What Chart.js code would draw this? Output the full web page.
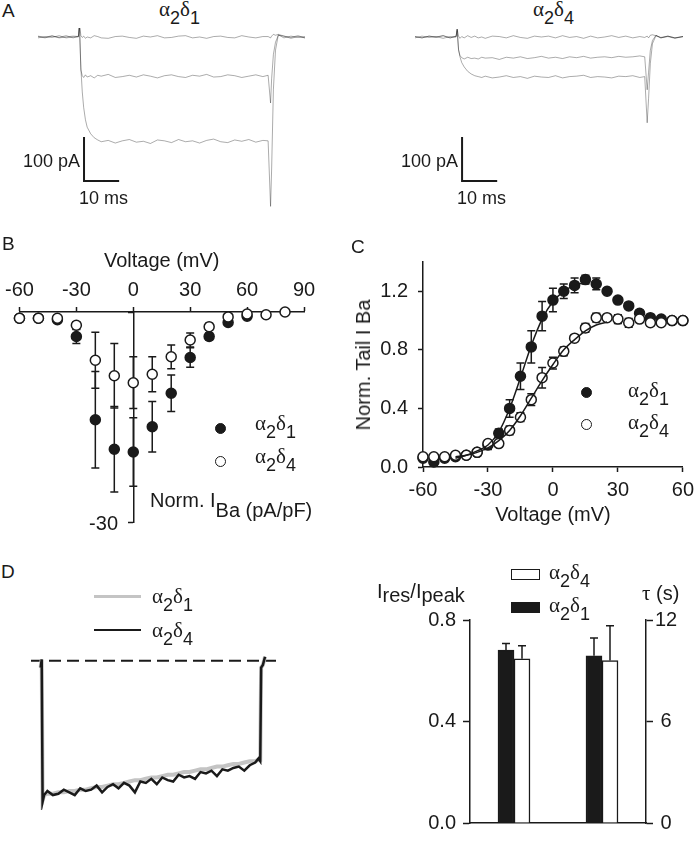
<!DOCTYPE html>
<html>
<head>
<meta charset="utf-8">
<script src="https://cdn.jsdelivr.net/npm/chart.js@4.4.1/dist/chart.umd.min.js"></script>
<style>
body { margin: 0; background: #fff; }
#fig { position: relative; width: 700px; height: 842px; overflow: hidden; font-family: 'Liberation Sans', Arial, sans-serif; color: #1a1a1a; }
#fig canvas { position: absolute; }
.t { position: absolute; white-space: nowrap; line-height: 1; font-size: 20px; }
.lt { font-size: 19px; }
.sb { font-size: 18px; }
.gl { font-family: 'Liberation Serif', 'Times New Roman', serif; font-size: 21px; }
.gl sub { font-family: 'Liberation Sans', Arial, sans-serif; font-size: 18px; vertical-align: -8px; line-height: 1; }
.sub10 sub { font-size: 20px; vertical-align: -10px; line-height: 1; }
.sub4 sub { font-size: 20px; vertical-align: -4px; line-height: 1; }
.serif { font-family: 'Liberation Serif', 'Times New Roman', serif; font-size: 21px; }
.dot { position: absolute; width: 11px; height: 11px; border-radius: 50%; border: 1.5px solid #1a1a1a; box-sizing: border-box; }
.box { position: absolute; border: 1.5px solid #1a1a1a; box-sizing: border-box; }
.ln { position: absolute; }
</style>
</head>
<body>
<div id="fig">
  <canvas id="cA1" width="267" height="185" style="left:38px;top:28px"></canvas>
  <canvas id="cA4" width="268" height="185" style="left:415px;top:28px"></canvas>
  <canvas id="cB" width="330" height="300" style="left:0;top:240px"></canvas>
  <canvas id="cC" width="350" height="300" style="left:350px;top:240px"></canvas>
  <canvas id="cD1" width="245" height="160" style="left:31px;top:650px"></canvas>
  <canvas id="cD2" width="350" height="242" style="left:350px;top:600px"></canvas>

  <div class="t lt" style="left:2px;top:1px">A</div>
  <div class="t lt" style="left:2px;top:234px">B</div>
  <div class="t lt" style="left:351px;top:237px">C</div>
  <div class="t lt" style="left:1px;top:562px">D</div>

  <div class="t gl" style="left:159px;top:-1px">α<sub>2</sub>δ<sub>1</sub></div>
  <div class="t gl" style="left:533px;top:-1px">α<sub>2</sub>δ<sub>4</sub></div>
  <div class="t sb" style="right:620px;top:152px">100 pA</div>
  <div class="t sb" style="left:79px;top:189px">10 ms</div>
  <div class="t sb" style="right:242px;top:152px">100 pA</div>
  <div class="t sb" style="left:457px;top:189px">10 ms</div>

  <div class="t" style="right:582px;top:513px">-30</div>
  <div class="dot" style="left:215px;top:423px;background:#1a1a1a"></div>
  <div class="dot" style="left:215px;top:456px;background:#fff"></div>
  <div class="t gl" style="left:255px;top:413px">α<sub>2</sub>δ<sub>1</sub></div>
  <div class="t gl" style="left:255px;top:446px">α<sub>2</sub>δ<sub>4</sub></div>
  <div class="t sub10" style="left:150px;top:490px">Norm. I<sub>Ba (pA/pF)</sub></div>

  <div class="dot" style="left:581px;top:387px;background:#1a1a1a"></div>
  <div class="dot" style="left:581px;top:419px;background:#fff"></div>
  <div class="t gl" style="left:628px;top:380px">α<sub>2</sub>δ<sub>1</sub></div>
  <div class="t gl" style="left:628px;top:412px">α<sub>2</sub>δ<sub>4</sub></div>
  <div class="t" style="left:363px;top:365px;transform:translate(-50%,-50%) rotate(-90deg)">Norm. Tail I Ba</div>

  <div class="ln" style="left:94px;top:595px;width:47px;height:3px;background:#c4c4c4"></div>
  <div class="ln" style="left:94px;top:629px;width:47px;height:2px;background:#1a1a1a"></div>
  <div class="t gl" style="left:152px;top:586px">α<sub>2</sub>δ<sub>1</sub></div>
  <div class="t gl" style="left:152px;top:620px">α<sub>2</sub>δ<sub>4</sub></div>

  <div class="box" style="left:511px;top:569px;width:29px;height:11px;background:#fff"></div>
  <div class="box" style="left:511px;top:602px;width:29px;height:11px;background:#1a1a1a"></div>
  <div class="t gl" style="left:549px;top:562px">α<sub>2</sub>δ<sub>4</sub></div>
  <div class="t gl" style="left:549px;top:595px">α<sub>2</sub>δ<sub>1</sub></div>
  <div class="t sub4" style="left:377px;top:581px">I<sub>res</sub>/I<sub>peak</sub></div>
  <div class="t" style="left:642px;top:583px"><span class="serif">τ</span> (s)</div>
</div>

<script>
// A: current traces (ms, pA)
const tA1 = [0,2,4,6,8,10,11.5,11.8,12.2,12.6,13,13.5,14,15,16,17,18,20,22,24,26,28,30,32,34,36,38,40,42,44,46,48,50,52,54,56,58,60,62,64,65.5,66.2,66.5,67,67.6,68.4,70,72,74,76];
const a1Zero = [2,-1,3,-2,0,2,1,32,3,-1,2,-3,0,-2,3,1,-2,-3,1,2,-1,-3,2,0,3,-2,-1,2,3,-2,0,-3,1,2,-1,-2,3,0,-2,1,1,-2,2,6,4,6,2,-1,3,-2];
const a1Mid = [-2,1,-1,3,-2,0,0,25,-75,-88,-92,-86,-91,-88,-93,-87,-89,-85,-92,-90,-87,-91,-86,-89,-93,-88,-86,-90,-92,-87,-89,-85,-91,-90,-86,-88,-92,-89,-86,-90,-87,-150,-95,-40,-12,4,2,-3,1,-2];
const a1Low = [1,-2,2,-1,3,-2,2,30,-70,-125,-160,-188,-205,-220,-229,-234,-238,-235,-241,-236,-233,-239,-237,-242,-234,-236,-240,-233,-238,-236,-241,-235,-232,-238,-240,-234,-237,-233,-239,-235,-236,-385,-300,-120,-30,5,-2,2,-1,1];

const tA4 = [0,2,4,6,8,10,11.7,12,12.4,12.8,13.3,14,15,16,17,18,19,20,22,24,26,28,30,32,34,36,38,40,42,44,46,48,50,52,54,56,58,60,62,64,65.4,66.1,66.5,67,67.6,68.6,70,72,74,76.3];
const a4Zero = [1,-2,2,0,3,-2,1,18,2,-3,1,-2,3,-1,2,-2,0,-3,2,1,-2,3,-1,-3,2,0,2,-2,3,-1,1,-3,2,-2,0,3,-1,2,-2,1,-1,2,-2,4,5,3,-2,1,-3,1];
const a4Mid = [-2,2,-1,1,-3,1,0,15,-30,-42,-47,-50,-46,-49,-48,-50,-46,-48,-47,-51,-46,-48,-45,-49,-47,-44,-48,-46,-49,-45,-47,-44,-48,-46,-45,-47,-44,-46,-45,-43,-45,-120,-80,-30,-8,4,-2,2,-2,1];
const a4Low = [1,-2,2,-1,3,-2,2,18,-28,-45,-58,-68,-78,-84,-88,-90,-92,-89,-93,-91,-88,-92,-90,-94,-89,-91,-92,-88,-93,-90,-89,-87,-92,-90,-91,-93,-89,-90,-88,-92,-90,-195,-140,-60,-15,3,-1,2,-2,1];

// B: I-V (mV, pA/pF)
const vB = [-60,-50,-40,-30,-20,-10,0,10,20,30,40,50,60,70,80];
const b1Mean = [-0.9,-0.9,-1.1,-3.5,-15.4,-19.6,-20.0,-16.4,-11.6,-6.5,-3.5,-1.5,-0.6];
const b1Err = [0.2,0.2,0.3,1.0,6.9,6.1,4.9,3.6,2.6,1.4,0.5,0.3,0.2];
const b4Mean = [-0.9,-0.9,-0.9,-1.9,-6.9,-9.1,-10.1,-8.9,-6.4,-4.0,-2.1,-0.7,-0.3,-0.4,0.0];
const b4Err = [0.2,0.2,0.2,0.5,4.0,4.6,3.7,2.5,1.7,1.0,0.5,0.3,0.2,0.2,0.2];

// C: normalized tail current
const vC = [-60,-55,-50,-45,-40,-35,-30,-25,-20,-15,-10,-5,0,5,10,15,20,25,30,35,40,45,50,55,60];
const c1Mean = [0.06,0.035,0.06,0.07,0.08,0.10,0.15,0.23,0.40,0.62,0.82,1.03,1.14,1.20,1.24,1.28,1.25,1.20,1.14,1.10,1.05,1.02,1.01,1.00,1.00];
const c1Err = [0.02,0.02,0.01,0.01,0.01,0.02,0.03,0.03,0.06,0.09,0.11,0.10,0.08,0.05,0.05,0.03,0.04,0.02,0.02,0.02,0.02,0.01,0.01,0.01,0.01];
const c4Mean = [0.07,0.07,0.07,0.08,0.08,0.10,0.16,0.16,0.25,0.34,0.46,0.61,0.71,0.79,0.88,0.95,1.02,1.02,1.01,0.985,1.01,0.985,0.985,1.00,1.00];
const c4Err = [0.01,0.01,0.01,0.01,0.01,0.02,0.02,0.02,0.03,0.03,0.04,0.07,0.04,0.03,0.02,0.03,0.03,0.02,0.03,0.03,0.01,0.02,0.01,0.01,0.01];
const fit1V = [-45,-40,-35,-30,-25,-20,-15,-10,-5,0,5,10,15];
const fit1 = [0.06,0.08,0.11,0.15,0.24,0.40,0.61,0.83,1.01,1.13,1.20,1.24,1.26];
const fit4V = [-45,-40,-35,-30,-25,-20,-15,-10,-5,0,5,10,15,20,25];
const fit4 = [0.07,0.08,0.10,0.13,0.18,0.25,0.35,0.47,0.59,0.70,0.80,0.87,0.93,0.97,0.99];

// D: inactivation trace (s, normalized) and bar summary
const dTime = [-0.06,-0.01,0.03,0.1,0.25,0.5,0.75,1,1.25,1.5,1.75,2,2.25,2.5,2.75,3,3.25,3.5,3.75,4,4.25,4.5,4.75,5,5.25,5.5,5.75,6,6.25,6.5,6.75,7,7.25,7.5,7.75,8,8.25,8.5,8.75,9,9.25,9.5,9.75,9.9,9.98,10.02,10.1,10.2];
const dBlack = [-0.05,0.01,-1.04,-0.99,-0.96,-0.99,-0.98,-0.95,-0.97,-0.99,-0.94,-0.96,-0.95,-0.92,-0.97,-0.93,-0.91,-0.94,-0.90,-0.92,-0.97,-0.89,-0.90,-0.87,-0.91,-0.86,-0.88,-0.89,-0.84,-0.86,-0.85,-0.87,-0.82,-0.83,-0.81,-0.85,-0.80,-0.81,-0.79,-0.78,-0.81,-0.77,-0.75,-0.72,-0.74,-0.05,-0.03,0.03];
const dGrey = [-0.05,0.01,-1.03,-0.99,-0.98,-0.98,-0.97,-0.97,-0.96,-0.96,-0.95,-0.95,-0.94,-0.93,-0.93,-0.92,-0.91,-0.91,-0.90,-0.89,-0.88,-0.88,-0.87,-0.86,-0.86,-0.85,-0.84,-0.84,-0.83,-0.82,-0.82,-0.81,-0.80,-0.80,-0.79,-0.78,-0.78,-0.77,-0.76,-0.76,-0.75,-0.74,-0.74,-0.73,-0.73,-0.05,-0.03,0.03];
const dZeroT = [-0.5, 10.7];
const dZero = [0, 0];

const barCats = ['Ires/Ipeak', 'tau'];
const ratio1 = [0.681, null], ratio1Err = [0.026, null];
const ratio4 = [0.647, null], ratio4Err = [0.052, null];
const tau1 = [null, 9.88], tau1Err = [null, 1.06];
const tau4 = [null, 9.6], tau4Err = [null, 2.06];

const INK = '#1a1a1a';
Chart.defaults.font.family = "'Liberation Sans', Arial, sans-serif";
Chart.defaults.font.size = 20;
Chart.defaults.color = INK;
Chart.defaults.animation = false;
Chart.defaults.plugins.legend.display = false;
Chart.defaults.plugins.tooltip.enabled = false;

const pts = (xs, ys) => ys.map((y, i) => ({ x: xs[i], y }));

const errorBarPlugin = {
    id: 'errorBars',
    beforeDatasetsDraw(chart) {
        const ctx = chart.ctx;
        chart.data.datasets.forEach((ds, i) => {
            if (!ds.errors) return;
            const meta = chart.getDatasetMeta(i);
            const ys = chart.scales[meta.yAxisID];
            ctx.save();
            ctx.strokeStyle = INK;
            ctx.lineWidth = 1.5;
            meta.data.forEach((el, j) => {
                const raw = ds.data[j];
                const e = ds.errors[j];
                if (raw == null || e == null) return;
                const v = typeof raw === 'object' ? raw.y : raw;
                const hi = ys.getPixelForValue(v + e);
                const lo = ds.errUp ? el.y : ys.getPixelForValue(v - e);
                const c = 4;
                ctx.beginPath();
                ctx.moveTo(el.x, lo); ctx.lineTo(el.x, hi);
                ctx.moveTo(el.x - c, hi); ctx.lineTo(el.x + c, hi);
                if (!ds.errUp) { ctx.moveTo(el.x - c, lo); ctx.lineTo(el.x + c, lo); }
                ctx.stroke();
            });
            ctx.restore();
        });
    }
};

const scaleBarPlugin = {
    id: 'scaleBar',
    afterDatasetsDraw(chart, args, o) {
        const { x, y } = chart.scales;
        const ctx = chart.ctx;
        const x0 = x.getPixelForValue(o.t), x1 = x.getPixelForValue(o.t + o.dt);
        const y0 = y.getPixelForValue(o.i), y1 = y.getPixelForValue(o.i - o.di);
        ctx.save();
        ctx.strokeStyle = INK;
        ctx.lineWidth = 2;
        ctx.beginPath();
        ctx.moveTo(x0, y0); ctx.lineTo(x0, y1); ctx.lineTo(x1, y1);
        ctx.stroke();
        ctx.restore();
    }
};

function traceChart(id, time, traces, xMax, bar) {
    return new Chart(document.getElementById(id), {
        type: 'line',
        data: {
            datasets: traces.map(tr => ({
                data: pts(time, tr),
                borderColor: 'rgba(0,0,0,0.33)',
                borderWidth: 1,
                pointRadius: 0,
                tension: 0
            }))
        },
        options: {
            responsive: false,
            devicePixelRatio: 1,
            layout: { padding: 0 },
            scales: {
                x: { type: 'linear', min: 0, max: xMax, display: false },
                y: { min: -400, max: 20.45, display: false }
            },
            plugins: { scaleBar: bar }
        },
        plugins: [scaleBarPlugin]
    });
}

traceChart('cA1', tA1, [a1Zero, a1Mid, a1Low], 76, { t: 13.1, i: -227, dt: 10, di: 100 });
traceChart('cA4', tA4, [a4Zero, a4Mid, a4Low], 76.3, { t: 13.4, i: -227, dt: 10, di: 100 });

const axisLine = { color: INK, width: 1.5 };
const outTicks = len => ({ drawOnChartArea: false, tickLength: len, tickColor: INK, tickWidth: 1.5 });

function markerSet(data, errors, filled) {
    return {
        data, errors,
        showLine: false,
        pointRadius: 5,
        pointBorderWidth: 1.5,
        pointBorderColor: INK,
        pointBackgroundColor: filled ? INK : '#fff',
        clip: false
    };
}

new Chart(document.getElementById('cB'), {
    type: 'line',
    data: {
        datasets: [
            markerSet(pts(vB, b4Mean), b4Err, false),
            markerSet(pts(vB, b1Mean), b1Err, true)
        ]
    },
    options: {
        responsive: false,
        devicePixelRatio: 1,
        layout: { padding: { left: 19, right: 26, top: 0, bottom: 18 } },
        scales: {
            x: {
                type: 'linear', position: 'top', min: -60, max: 90,
                afterFit: s => { s.height = 72; },
                ticks: { stepSize: 30, padding: 5, maxRotation: 0, autoSkip: false },
                grid: outTicks(5), border: axisLine,
                title: { display: true, text: 'Voltage (mV)', padding: { top: 9, bottom: 0 } }
            },
            y: {
                type: 'linear', min: -30, max: 0, position: { x: 0 },
                ticks: { stepSize: 30, callback: () => '' },
                grid: outTicks(5), border: axisLine
            }
        }
    },
    plugins: [errorBarPlugin]
});

new Chart(document.getElementById('cC'), {
    type: 'line',
    data: {
        datasets: [
            { data: pts(fit1V, fit1), borderColor: INK, borderWidth: 1.5, pointRadius: 0, cubicInterpolationMode: 'monotone', clip: false },
            { data: pts(fit4V, fit4), borderColor: INK, borderWidth: 1.5, pointRadius: 0, cubicInterpolationMode: 'monotone', clip: false },
            markerSet(pts(vC, c4Mean), c4Err, false),
            markerSet(pts(vC, c1Mean), c1Err, true)
        ]
    },
    options: {
        responsive: false,
        devicePixelRatio: 1,
        layout: { padding: { left: 0, right: 11, top: 17, bottom: 0 } },
        scales: {
            x: {
                type: 'linear', min: -60, max: 60,
                afterFit: s => { s.height = 73; },
                ticks: { stepSize: 30, padding: 6, maxRotation: 0, autoSkip: false },
                grid: outTicks(5), border: axisLine,
                title: { display: true, text: 'Voltage (mV)', padding: { top: 0, bottom: 13 } }
            },
            y: {
                type: 'linear', min: 0, max: 1.4,
                afterFit: s => { s.width = 73; },
                ticks: { stepSize: 0.4, padding: 10, includeBounds: false, callback: v => v.toFixed(1) },
                grid: outTicks(5), border: axisLine
            }
        }
    },
    plugins: [errorBarPlugin]
});

new Chart(document.getElementById('cD1'), {
    type: 'line',
    data: {
        datasets: [
            { data: pts(dTime, dBlack), borderColor: INK, borderWidth: 2.5, pointRadius: 0, tension: 0 },
            { data: pts(dTime, dGrey), borderColor: '#c4c4c4', borderWidth: 4, pointRadius: 0, tension: 0 },
            { data: pts(dZeroT, dZero), borderColor: INK, borderWidth: 2, borderDash: [12, 6], pointRadius: 0 }
        ]
    },
    options: {
        responsive: false,
        devicePixelRatio: 1,
        layout: { padding: 0 },
        scales: {
            x: { type: 'linear', min: -0.5, max: 10.7, display: false },
            y: { min: -1.1, max: 0.08, display: false }
        }
    }
});

function barSet(data, errors, axis, stack, filled) {
    return {
        data, errors, errUp: true,
        yAxisID: axis, stack,
        barThickness: 16,
        skipNull: true,
        backgroundColor: filled ? INK : '#fff',
        borderColor: INK,
        borderWidth: 1.5
    };
}

new Chart(document.getElementById('cD2'), {
    type: 'bar',
    data: {
        labels: barCats,
        datasets: [
            barSet(ratio1, ratio1Err, 'y', 'd1', true),
            barSet(ratio4, ratio4Err, 'y', 'd4', false),
            barSet(tau1, tau1Err, 'y2', 'd1', true),
            barSet(tau4, tau4Err, 'y2', 'd4', false)
        ]
    },
    options: {
        responsive: false,
        devicePixelRatio: 1,
        layout: { padding: { left: 0, right: 0, top: 20, bottom: 0 } },
        scales: {
            x: {
                afterFit: s => { s.height = 7; },
                ticks: { display: false },
                grid: { drawOnChartArea: false, drawTicks: false },
                border: axisLine
            },
            y: {
                type: 'linear', position: 'left', min: 0, max: 0.8, stacked: false,
                afterFit: s => { s.width = 120; },
                ticks: { stepSize: 0.4, padding: 7, callback: v => v.toFixed(1) },
                grid: outTicks(7), border: axisLine
            },
            y2: {
                type: 'linear', axis: 'y', position: 'right', min: 0, max: 12, stacked: false,
                afterFit: s => { s.width = 54; },
                ticks: { stepSize: 6, padding: 2, crossAlign: 'center' },
                grid: outTicks(7), border: axisLine
            }
        }
    },
    plugins: [errorBarPlugin]
});
</script>
</body>
</html>
